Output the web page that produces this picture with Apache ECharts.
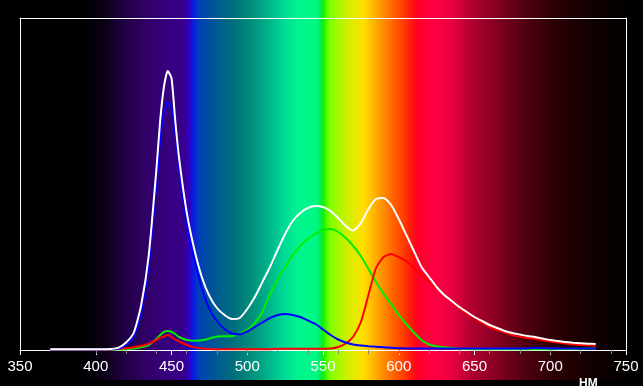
<!DOCTYPE html>
<html>
<head>
<meta charset="utf-8">
<script src="https://cdn.jsdelivr.net/npm/echarts@6/dist/echarts.min.js"></script>
<style>html,body{margin:0;padding:0;background:#000;}#c{width:643px;height:386px;}</style>
</head>
<body>
<div id="c"></div>
<script>
// Wavelengths (nm)
var wavelengths = [370,375,380,385,390,395,400,405,410,415,420,425,430,435,440,442.5,445,447.5,450,452.5,455,460,465,470,475,480,485,490,495,500,505,510,515,520,525,530,535,540,545,550,555,560,565,570,575,580,585,590,595,600,605,610,615,620,625,630,635,640,645,650,655,660,665,670,675,680,685,690,695,700,705,710,715,720,725,730];
// Relative intensity (arbitrary units)
var totalWhite = [0.7,0.7,0.7,0.7,0.7,0.7,0.7,0.8,1,2.3,7.5,17,45,95,180,229,263,279,272,229,192,138,101,73,54,42,35,31,32,41,53,68,83,100,116,129,137,142,144,143,139,132,124,119.5,127,141,151,152,145,131,115,99,83,73,63,55,49,43,38,33,29,25,22,19,17,15.5,14,13,11.5,10,9,8,7.3,6.8,6.3,6];
var blueCh = [0.5,0.5,0.5,0.5,0.5,0.5,0.5,0.5,0.7,1.5,5,13,38,85,165,210,238,248,242,218,183,128,92,62,41,29,21,16.5,15.7,18.5,23,27.5,32,35,36,35,33,29.5,26,20.5,15,10.5,7.5,5.5,4.5,3.8,3.3,2.8,2.3,1.8,1.5,1.4,1.4,1.4,1.4,1.4,1.4,1.4,1.4,1.4,1.4,1.4,1.4,1.4,1.4,1.5,1.6,2,1.8,1.6,1.5,1.5,1.5,1.5,1.5,1.5];
var greenCh = [0.3,0.3,0.3,0.3,0.3,0.3,0.3,0.3,0.3,0.4,0.8,1.5,2.8,5,11,15,18,19,18.3,16,13,10,9.3,9.8,11.5,13.5,13.7,13.8,16.5,20,27,38,56,70,83,95,104,111,116,120,121,118,112,104,94,81,68,56,46,35,26,17.5,10,5.5,3.8,2.8,2,1.3,1,0.8,0.8,0.8,0.8,0.8,0.8,0.8,0.8,0.8,0.8,0.8,0.9,1,1.1,1.2,1.4,1.5];
var redCh = [0.2,0.2,0.2,0.2,0.2,0.2,0.2,0.2,0.5,1,1.7,2.7,4.2,6.3,10,12.5,13.5,15,13,10.5,8.5,5,2.6,1.5,1,0.8,0.8,0.8,0.8,0.8,0.8,0.8,0.8,1.3,1.3,1.3,1.3,1.3,1.3,1.3,1.5,3,6.5,13.5,28,55,82,93,96,93,89,82,75,68,62,55,48,42,36,32,27,23,20,17.5,15,13.5,12,11,9.8,8.5,7.5,6.5,5.5,5,4.7,4.3];
var xTickLabels = [350,400,450,500,550,600,650,700,750];
var minorTicks = [400,420,440,460,480,500,520,540,560,580,600,620,640,660,680,700,720,740];
var unitLabel = 'HM';
var yMax = 332;

function pairs(arr){ return wavelengths.map(function(w,i){ return [w, arr[i]]; }); }

var chart = echarts.init(document.getElementById('c'), null, {renderer:'canvas'});
var stops = [
  [0,'#000000'],[80,'#000000'],[102,'#0a0012'],[123,'#1e0040'],[145,'#300064'],[165,'#37007c'],
  [183,'#38008a'],[189,'#3200bc'],[193,'#0a18e6'],[199,'#0040b4'],[217,'#005a90'],[233,'#006e7c'],
  [250,'#008c7c'],[267,'#00b08a'],[283,'#00d896'],[298,'#00f48e'],[316,'#00f884'],[320,'#00ee60'],
  [323,'#10f000'],[330,'#80ff00'],[348,'#d0f000'],[363,'#ffe000'],[377,'#ffa800'],[390,'#ff7000'],
  [403,'#ff4000'],[413,'#ff1010'],[418,'#ff0028'],[433,'#ff0042'],[450,'#ee0040'],[472,'#b00030'],
  [500,'#80001e'],[525,'#500012'],[553,'#2c0006'],[594,'#100000'],[625,'#040000'],[643,'#000000']
].map(function(s){ return {offset: s[0]/643, color: s[1]}; });

function line(name, data, color, z){
  return {name:name, type:'line', data:pairs(data), showSymbol:false, symbol:'none', smooth:0.2,
    lineStyle:{color:color, width:2}, itemStyle:{color:color}, z:z, animation:false};
}
var frameLine = {show:true, lineStyle:{color:'#fff', width:1}};

chart.setOption({
  backgroundColor:'#000',
  animation:false,
  title:{text:unitLabel, left:574, top:373, textStyle:{color:'#fff', fontSize:12, fontWeight:'bold', fontFamily:'Liberation Sans'}},
  graphic:[{type:'rect', z:-100, silent:true, shape:{x:0,y:0,width:643,height:380},
    style:{fill:new echarts.graphic.LinearGradient(0,0,1,0,stops)}}],
  grid:{left:20, right:17, top:18, bottom:36, show:false},
  xAxis:[{type:'value', min:350, max:750, interval:50, position:'bottom',
      axisLine:frameLine,
      axisTick:{show:true, inside:false, length:5, lineStyle:{color:'#fff'}},
      axisLabel:{color:'#fff', fontSize:15, fontFamily:'Liberation Sans', margin:9,
        customValues:xTickLabels, formatter:function(v){return String(v);}},
      splitLine:{show:false}},
    {type:'value', min:350, max:750, position:'bottom', offset:32,
      axisLine:{show:false},
      axisTick:{show:true, inside:false, length:4, customValues:minorTicks, lineStyle:{color:'#888'}},
      axisLabel:{show:false}, splitLine:{show:false}},
    {type:'value', min:350, max:750, position:'top',
      axisLine:frameLine, axisTick:{show:false}, axisLabel:{show:false}, splitLine:{show:false}}],
  yAxis:[{type:'value', min:0, max:yMax, position:'left', axisLine:frameLine,
      axisTick:{show:false}, axisLabel:{show:false}, splitLine:{show:false}},
    {type:'value', min:0, max:yMax, position:'right', axisLine:frameLine,
      axisTick:{show:false}, axisLabel:{show:false}, splitLine:{show:false}}],
  series:[
    line('G', greenCh, '#00ee00', 3),
    line('R', redCh, '#ff0000', 4),
    line('B', blueCh, '#0000ff', 5),
    line('W', totalWhite, '#ffffff', 6)
  ]
});
</script>
</body>
</html>
